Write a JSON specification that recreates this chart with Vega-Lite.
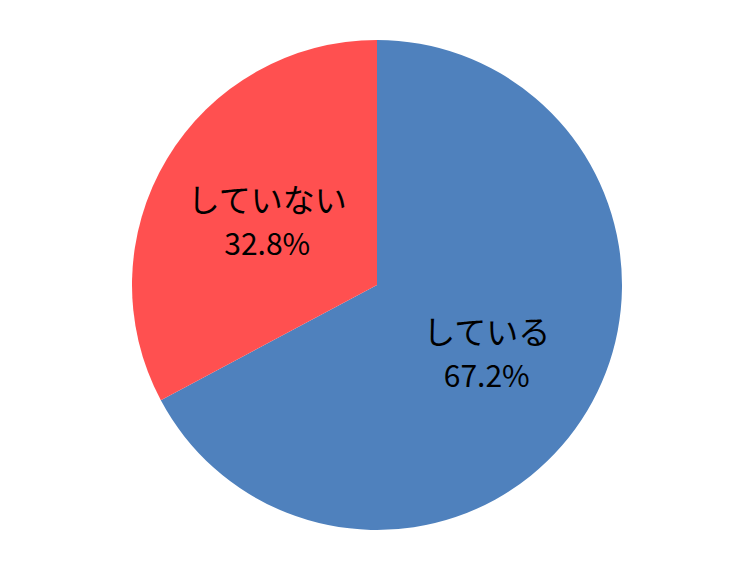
{
  "$schema": "https://vega.github.io/schema/vega-lite/v6.json",
  "width": 736,
  "height": 570,
  "padding": {"left": 9, "top": 0, "right": 0, "bottom": 0},
  "autosize": {"type": "none"},
  "background": "white",
  "view": {"stroke": null},
  "data": {
    "values": [
      {"label": "している", "value": 67.2, "pct": "67.2%", "order": 1},
      {"label": "していない", "value": 32.8, "pct": "32.8%", "order": 2}
    ]
  },
  "encoding": {
    "theta": {"field": "value", "type": "quantitative", "stack": true},
    "order": {"field": "order", "type": "quantitative"}
  },
  "layer": [
    {
      "mark": {"type": "arc", "outerRadius": 245},
      "encoding": {
        "color": {
          "field": "label",
          "type": "nominal",
          "scale": {"domain": ["している", "していない"], "range": ["#4F81BD", "#FF5050"]},
          "legend": null
        }
      }
    },
    {
      "mark": {"type": "text", "radius": 128, "dy": -17, "font": "Noto Sans CJK JP", "fontSize": 32, "color": "black", "baseline": "middle", "align": "center"},
      "encoding": {"text": {"field": "label"}}
    },
    {
      "mark": {"type": "text", "radius": 128, "dy": 27, "font": "Noto Sans CJK JP", "fontSize": 30, "color": "black", "baseline": "middle", "align": "center"},
      "encoding": {"text": {"field": "pct"}}
    }
  ]
}
